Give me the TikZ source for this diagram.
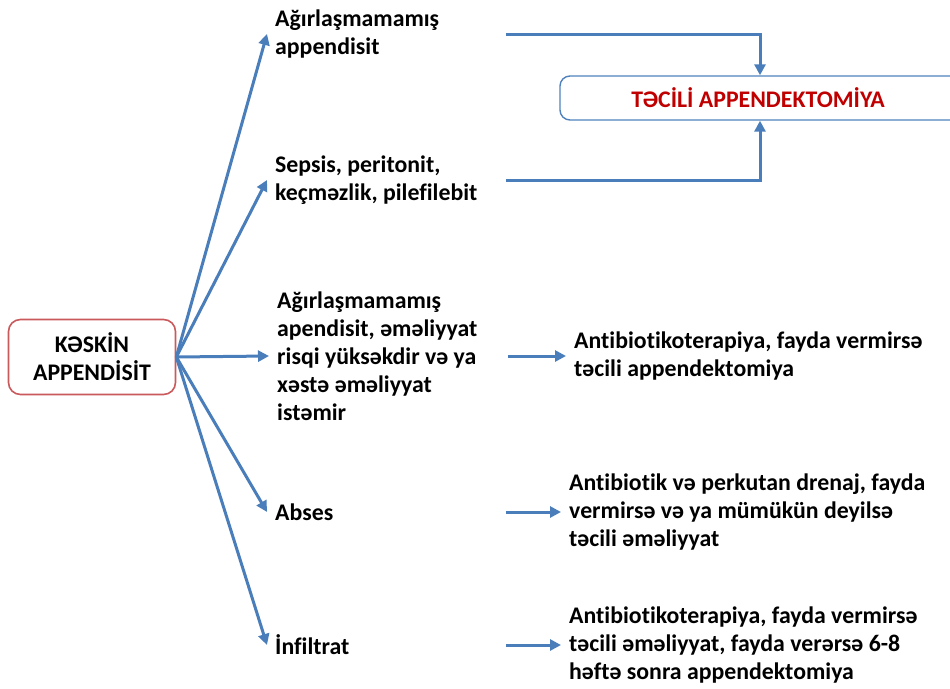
\documentclass[tikz,border=0pt]{standalone}
\usepackage{fontspec}
\setmainfont{Carlito}[Ligatures=NoCommon]
\usepackage{xcolor}
\usepackage{tikz}
\usetikzlibrary{arrows.meta,positioning}
\definecolor{arrblue}{HTML}{4A7EBB}
\definecolor{boxblue}{HTML}{4F81BD}
\definecolor{boxred}{HTML}{C9595A}
\definecolor{titlered}{HTML}{C00000}
\newcommand{\labfont}{\fontsize{23.8}{28}\selectfont\bfseries}
\tikzset{
  txt/.style={anchor=west, inner xsep=8pt, inner ysep=0pt, align=flush left, font=\labfont},
  cause/.style={txt, text width=223pt},
  mainbox/.style={draw=boxred, line width=1.6pt, rounded corners=12pt, minimum width=167pt, minimum height=75pt, align=center, font=\labfont},
  goalbox/.style={draw=boxblue, line width=1.4pt, rounded corners=10pt, minimum width=440pt, minimum height=44pt, text=titlered, font=\labfont},
  arrow/.style={-{Triangle[length=11pt,width=11pt]}, line width=3pt, draw=arrblue}
}

\begin{document}
\begin{tikzpicture}[x=1pt,y=-1pt]
  \useasboundingbox (0,0) rectangle (950,688);
  \node[mainbox] (ka) at (92,357) {KƏSKİN\\APPENDİSİT};
  \node[goalbox] (ta) at (780,98) {\hspace*{-44pt}TƏCİLİ APPENDEKTOMİYA};
  % forms of the disease
  \node[cause] (sade) at (267,34) {Ağırlaşmamamış\\appendisit};
  \node[cause] (sep) at (267,180) {Sepsis, peritonit,\\keçməzlik, pilefilebit};
  \node[cause] (risk) at (269,356) {Ağırlaşmamamış\\apendisit, əməliyyat\\risqi yüksəkdir və ya\\xəstə əməliyyat\\istəmir};
  \node[cause] (abs) at (267,512) {Abses};
  \node[cause] (inf) at (267,645) {İnfiltrat};
  % treatment
  \node[txt] (trisk) at (566,356) {Antibiotikoterapiya, fayda vermirsə\\təcili appendektomiya};
  \node[txt] (tabs) at (561,512) {Antibiotik və perkutan drenaj, fayda\\vermirsə və ya mümükün deyilsə\\təcili əməliyyat};
  \node[txt] (tinf) at (561,645) {Antibiotikoterapiya, fayda vermirsə\\təcili əməliyyat, fayda verərsə 6-8\\həftə sonra appendektomiya};
  \foreach \t in {sade,sep,risk,abs,inf}
    \draw[arrow] (ka.east) -- (\t.west);
  \draw[arrow] (sade.east) -| ([xshift=-20pt]ta.north);
  \draw[arrow] (sep.east) -| ([xshift=-20pt]ta.south);
  \draw[arrow] (risk.east) -- (trisk.west);
  \draw[arrow] (abs.east) -- (tabs.west);
  \draw[arrow] (inf.east) -- (tinf.west);
\end{tikzpicture}
\end{document}
